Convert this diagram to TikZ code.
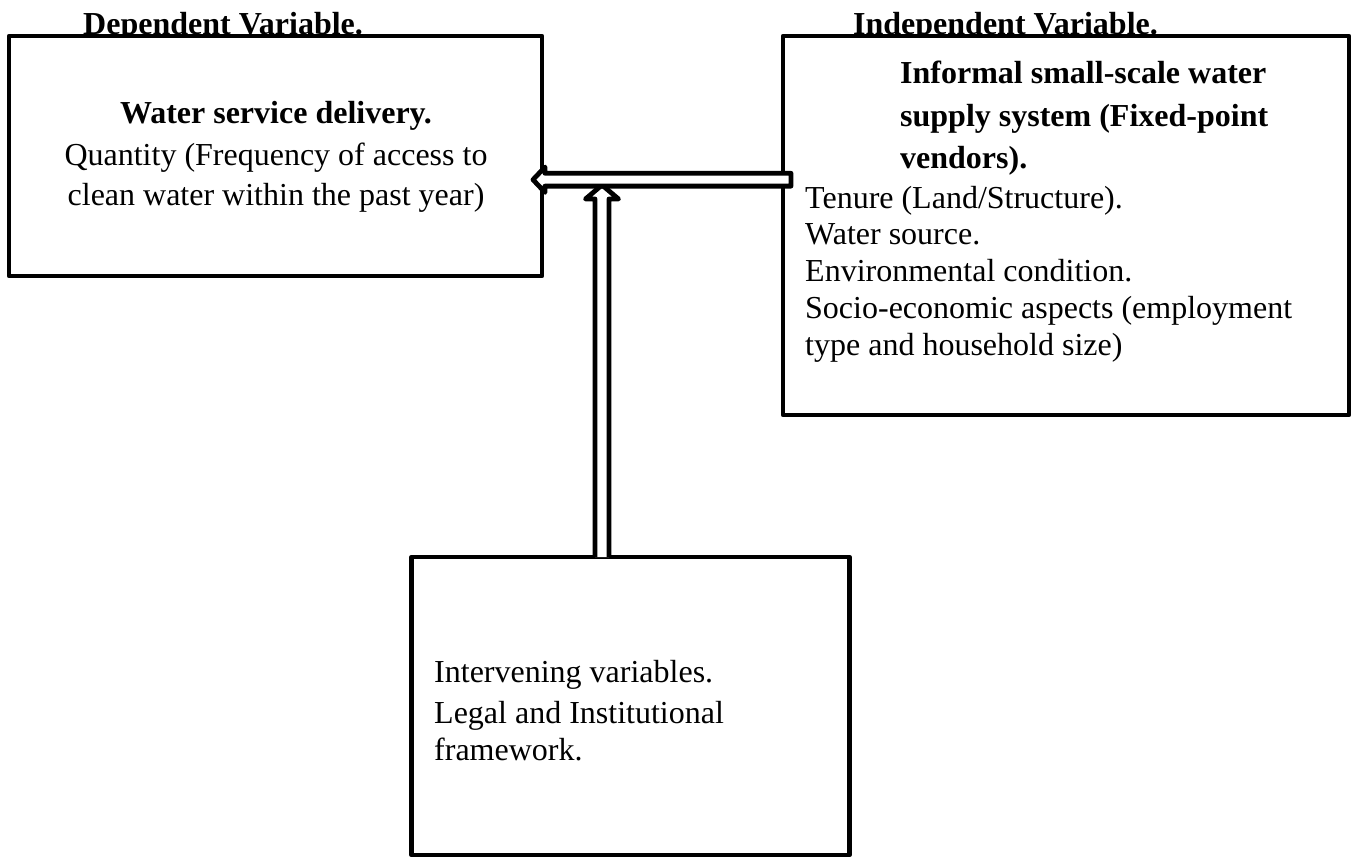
\documentclass[tikz,border=0pt]{standalone}
\usepackage{fontspec}
\setmainfont{Liberation Serif}
\usetikzlibrary{calc}
\begin{document}
\begin{tikzpicture}[x=1pt,y=-1pt,
  box/.style={draw, line width=4.8pt, fill=white, line join=round, inner sep=0pt, outer sep=0pt, anchor=north west},
  txt/.style={anchor=base west, inner sep=0pt, font=\fontsize{32}{37}\selectfont},
  btxt/.style={anchor=base west, inner sep=0pt, font=\fontsize{32}{37}\selectfont\bfseries},
  cbtxt/.style={anchor=base, inner sep=0pt, font=\fontsize{32}{37}\selectfont\bfseries},
  ctxt/.style={anchor=base, inner sep=0pt, font=\fontsize{32}{37}\selectfont},
  dblarrow/.style={draw, line width=4.8pt, fill=white, line join=round}]
\useasboundingbox (0,0) rectangle (1353,859);

% headings (partly covered by the boxes)
\node[btxt] (deph) at (83,35) {Dependent Variable.};
\node[btxt] (indh) at (853,35) {Independent Variable.};

% boxes
\node[box, minimum width=533pt, minimum height=240pt] (dep) at (9,36) {};
\node[box, minimum width=566pt, minimum height=379pt] (ind) at (783,36) {};
\node[box, minimum width=438pt, minimum height=298pt] (inter) at (411.5,557) {};

% dependent box text
\node[cbtxt] (d1) at (276,124) {Water service delivery.};
\node[ctxt] (d2) at (276,165) {Quantity (Frequency of access to};
\node[ctxt] (d3) at (276,205) {clean water within the past year)};

% independent box text
\node[btxt] (i1) at (900,84) {Informal small-scale water};
\node[btxt] (i2) at (900,126) {supply system (Fixed-point};
\node[btxt] (i3) at (900,168) {vendors).};
\node[txt] (i4) at (805,208) {Tenure (Land/Structure).};
\node[txt] (i5) at (805,244) {Water source.};
\node[txt] (i6) at (805,281) {Environmental condition.};
\node[txt] (i7) at (805,318) {Socio-economic aspects (employment};
\node[txt] (i8) at (805,355) {type and household size)};

% intervening box text
\node[txt] (v1) at (434,682) {Intervening variables.};
\node[txt] (v2) at (434,723) {Legal and Institutional};
\node[txt] (v3) at (434,760) {framework.};

% connectors
\coordinate (hy) at (0,179.7);
\coordinate (vx) at (602,0);
\coordinate (hs) at ($(ind.west |- hy)+(8,0)$);
\coordinate (ht) at ($(dep.east |- hy)+(-9,0)$);
\coordinate (vb) at (vx |- inter.north);
\coordinate (vt) at ($(vx |- hy)+(0,5.3)$);

\draw[dblarrow] ($(vb)+(-7,0)$) -- ($(vt)+(-7,14)$) -- ($(vt)+(-16.5,14)$) -- (vt)
  -- ($(vt)+(16.5,14)$) -- ($(vt)+(7,14)$) -- ($(vb)+(7,0)$);

\draw[dblarrow] ($(hs)+(0,-6.4)$) -- ($(ht)+(12,-6.4)$) -- ($(ht)+(12,-12.7)$) -- (ht)
  -- ($(ht)+(12,12.7)$) -- ($(ht)+(12,6.4)$) -- ($(hs)+(0,6.4)$) -- cycle;
\end{tikzpicture}
\end{document}
